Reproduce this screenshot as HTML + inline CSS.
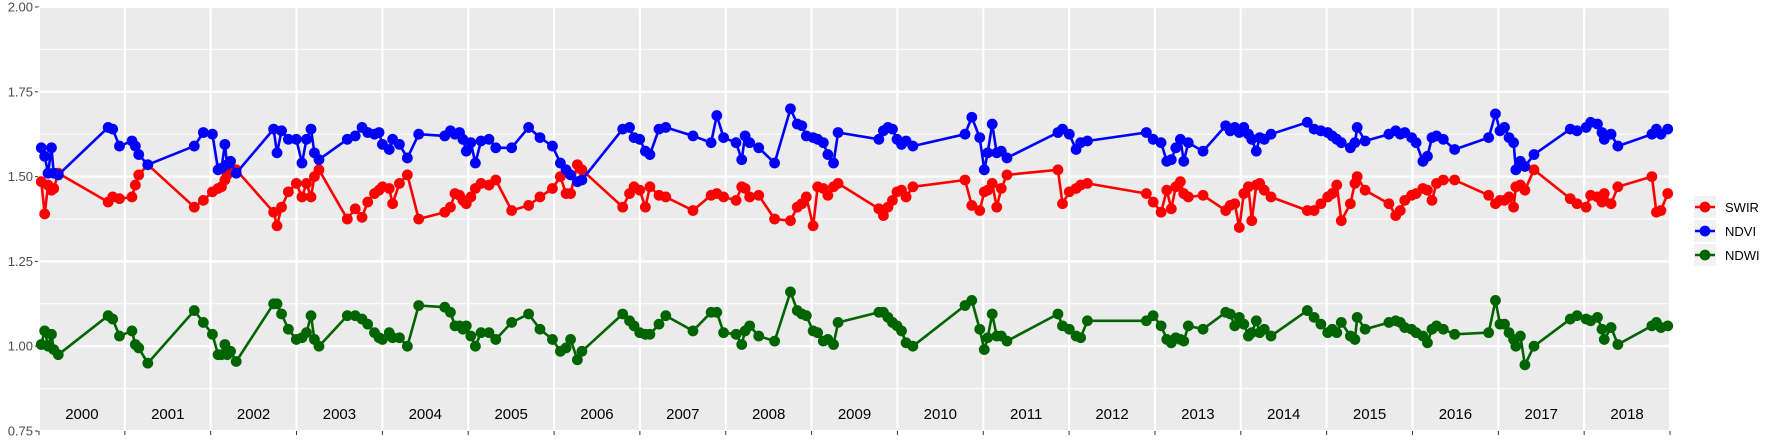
<!DOCTYPE html>
<html><head><meta charset="utf-8"><style>
html,body{margin:0;padding:0;background:#fff;}
svg text{font-family:"Liberation Sans",sans-serif;}
</style></head><body>
<svg id="s" width="1773" height="442" xmlns="http://www.w3.org/2000/svg"></svg>
<script>
const NS="http://www.w3.org/2000/svg",s=document.getElementById('s');
function el(t,a,txt){const e=document.createElementNS(NS,t);for(const k in a)e.setAttribute(k,a[k]);if(txt!==undefined)e.textContent=txt;s.appendChild(e);return e;}
const L=39,R=1670,T=7,B=431;
const X=tx=>L+(tx-35)*(R-L)/1439;
const Y=v=>T+(2-v)*(B-T)/1.25;
el('rect',{x:L,y:T,width:R-L,height:B-T,fill:'#ebebeb'});
for(let v=0.875;v<2;v+=0.25)el('line',{x1:L,x2:R,y1:Y(v),y2:Y(v),stroke:'#fff','stroke-width':1});
for(let v=0.75;v<=2.001;v+=0.25){el('line',{x1:L,x2:R,y1:Y(v),y2:Y(v),stroke:'#fff','stroke-width':2.2});
 el('line',{x1:L-4,x2:L,y1:Y(v),y2:Y(v),stroke:'#333','stroke-width':1});
 el('text',{x:L-6,y:Y(v)+4.5,'text-anchor':'end','font-size':13,fill:'#4d4d4d'},v.toFixed(2));}
const yw=(R-L)/19;
for(let i=0;i<=19;i++){const x=L+i*yw;el('line',{x1:x,x2:x,y1:T,y2:B,stroke:'#fff','stroke-width':2.2});
 el('line',{x1:x,x2:x,y1:B,y2:B+4,stroke:'#333','stroke-width':1});}
for(let i=0;i<19;i++)el('text',{x:L+(i+0.5)*yw,y:419,'text-anchor':'middle','font-size':15,fill:'#000'},2000+i);
const xs=[37,40,43,46,48,52,96,100,106,117,120,123,131,172,180,188,193,196,199,201,204,209,242,245,249,255,262,267,271,275,278,282,307,314,320,325,331,335,338,344,347,353,360,370,393,398,402,406,409,412,416,420,425,432,438,452,467,477,488,495,500,504,510,514,550,556,560,565,570,574,582,588,612,628,633,639,650,655,658,662,670,684,698,704,708,712,718,722,727,731,736,740,776,780,784,788,792,796,800,806,852,858,865,869,872,876,880,884,889,934,938,944,950,954,960,1012,1018,1025,1030,1034,1038,1042,1045,1049,1062,1082,1086,1090,1094,1098,1102,1105,1109,1112,1116,1122,1154,1160,1166,1172,1176,1180,1184,1192,1196,1198,1205,1226,1232,1236,1240,1246,1250,1256,1260,1264,1268,1274,1284,1314,1320,1324,1328,1332,1336,1338,1342,1346,1354,1386,1392,1400,1404,1410,1414,1416,1422,1428,1458,1462,1466,1472];
const ndvi=[1.585,1.56,1.51,1.585,1.51,1.505,1.645,1.64,1.59,1.605,1.59,1.565,1.535,1.59,1.63,1.625,1.52,1.525,1.595,1.535,1.545,1.51,1.64,1.57,1.635,1.61,1.61,1.54,1.61,1.64,1.57,1.55,1.61,1.62,1.645,1.63,1.625,1.63,1.595,1.58,1.61,1.595,1.555,1.625,1.62,1.635,1.625,1.63,1.61,1.575,1.6,1.54,1.605,1.61,1.585,1.585,1.645,1.615,1.59,1.54,1.52,1.505,1.485,1.49,1.64,1.645,1.615,1.61,1.575,1.565,1.64,1.645,1.62,1.6,1.68,1.615,1.6,1.55,1.62,1.6,1.585,1.54,1.70,1.655,1.65,1.62,1.615,1.61,1.6,1.565,1.54,1.63,1.61,1.635,1.645,1.64,1.61,1.595,1.605,1.59,1.625,1.675,1.615,1.52,1.57,1.655,1.57,1.575,1.555,1.63,1.64,1.625,1.58,1.6,1.605,1.63,1.61,1.6,1.545,1.55,1.585,1.61,1.545,1.6,1.575,1.65,1.635,1.645,1.63,1.645,1.625,1.61,1.575,1.615,1.61,1.625,1.66,1.64,1.635,1.63,1.62,1.61,1.6,1.585,1.6,1.645,1.605,1.625,1.635,1.625,1.63,1.615,1.6,1.545,1.56,1.615,1.62,1.61,1.58,1.615,1.685,1.635,1.645,1.615,1.6,1.52,1.545,1.53,1.565,1.64,1.635,1.645,1.66,1.655,1.63,1.61,1.625,1.59,1.625,1.64,1.625,1.64];
const swir=[1.485,1.39,1.475,1.46,1.465,1.51,1.425,1.44,1.435,1.44,1.475,1.505,1.535,1.41,1.43,1.455,1.465,1.47,1.49,1.505,1.52,1.52,1.395,1.355,1.41,1.455,1.48,1.44,1.48,1.44,1.5,1.52,1.375,1.405,1.38,1.425,1.45,1.46,1.47,1.465,1.42,1.48,1.505,1.375,1.395,1.41,1.45,1.445,1.43,1.42,1.44,1.465,1.48,1.475,1.49,1.4,1.415,1.44,1.465,1.5,1.45,1.45,1.535,1.52,1.41,1.45,1.47,1.46,1.41,1.47,1.445,1.44,1.4,1.445,1.45,1.44,1.43,1.47,1.465,1.44,1.445,1.375,1.37,1.41,1.42,1.44,1.355,1.47,1.465,1.445,1.47,1.48,1.405,1.385,1.41,1.43,1.455,1.46,1.44,1.47,1.49,1.415,1.4,1.455,1.46,1.48,1.41,1.465,1.505,1.52,1.42,1.455,1.465,1.475,1.48,1.45,1.425,1.395,1.46,1.405,1.47,1.485,1.45,1.44,1.445,1.4,1.415,1.42,1.35,1.45,1.47,1.37,1.475,1.48,1.46,1.44,1.4,1.4,1.42,1.44,1.45,1.475,1.37,1.42,1.48,1.5,1.46,1.42,1.385,1.4,1.43,1.445,1.45,1.465,1.46,1.43,1.48,1.49,1.49,1.445,1.42,1.43,1.43,1.44,1.41,1.47,1.475,1.46,1.52,1.435,1.42,1.41,1.445,1.44,1.425,1.45,1.42,1.47,1.5,1.395,1.4,1.45,1.46];
const ndwi=[1.005,1.045,1.0,1.035,0.99,0.975,1.09,1.08,1.03,1.045,1.005,0.995,0.95,1.105,1.07,1.035,0.975,0.975,1.005,0.975,0.985,0.955,1.125,1.125,1.095,1.05,1.02,1.025,1.04,1.09,1.02,1.0,1.09,1.09,1.08,1.065,1.04,1.025,1.02,1.04,1.025,1.025,1.0,1.12,1.115,1.1,1.06,1.06,1.05,1.06,1.03,1.0,1.04,1.04,1.02,1.07,1.095,1.05,1.02,0.985,0.995,1.02,0.96,0.985,1.095,1.075,1.06,1.04,1.035,1.035,1.065,1.09,1.045,1.1,1.1,1.04,1.035,1.005,1.045,1.06,1.03,1.015,1.16,1.105,1.095,1.09,1.045,1.04,1.015,1.02,1.005,1.07,1.1,1.1,1.085,1.07,1.06,1.045,1.01,1.0,1.12,1.135,1.05,0.99,1.025,1.095,1.03,1.03,1.015,1.095,1.06,1.05,1.03,1.025,1.075,1.075,1.09,1.06,1.02,1.01,1.025,1.02,1.015,1.06,1.05,1.1,1.095,1.06,1.085,1.065,1.03,1.04,1.075,1.04,1.05,1.03,1.105,1.085,1.065,1.04,1.05,1.04,1.07,1.03,1.02,1.085,1.05,1.07,1.075,1.07,1.055,1.05,1.04,1.03,1.01,1.05,1.06,1.05,1.035,1.04,1.135,1.065,1.065,1.04,1.02,1.0,1.03,0.945,1.0,1.08,1.09,1.08,1.075,1.085,1.05,1.02,1.055,1.005,1.06,1.07,1.055,1.06];
function series(vals,col){
 el('polyline',{points:xs.map((x,i)=>X(x).toFixed(1)+','+Y(vals[i]).toFixed(1)).join(' '),fill:'none',stroke:col,'stroke-width':2.6,'stroke-linejoin':'round'});
 xs.forEach((x,i)=>el('circle',{cx:X(x),cy:Y(vals[i]),r:5.4,fill:col}));
}
series(swir,'#ff0000');series(ndvi,'#0000ff');series(ndwi,'#006400');
[['SWIR','#ff0000'],['NDVI','#0000ff'],['NDWI','#006400']].forEach((d,i)=>{
 const y=196+i*24;
 el('rect',{x:1694,y:y,width:22,height:22,fill:'#f2f2f2'});
 el('line',{x1:1695,x2:1715,y1:y+11,y2:y+11,stroke:d[1],'stroke-width':2.6});
 el('circle',{cx:1705,cy:y+11,r:5.4,fill:d[1]});
 el('text',{x:1725,y:y+16,'font-size':13,fill:'#000'},d[0]);
});
</script>
</body></html>
